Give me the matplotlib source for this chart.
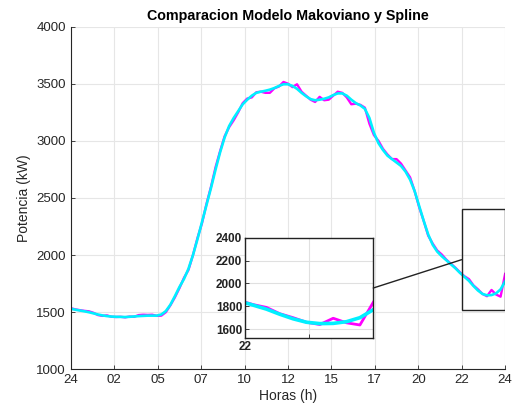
import numpy as np
import matplotlib
matplotlib.use("Agg")
import matplotlib.pyplot as plt
from matplotlib.patches import Rectangle, ConnectionPatch

plt.rcParams['font.family'] = ['Liberation Sans', 'DejaVu Sans']

# 15-minute samples, 0 h .. 24 h
horas = np.arange(0, 24.01, 0.25)

markov = [1535, 1525, 1518, 1512, 1508, 1495, 1475, 1468, 1472, 1460,
          1458, 1460, 1455, 1462, 1460, 1475, 1478, 1476, 1478, 1468,
          1470, 1500, 1560, 1630, 1710, 1800, 1870, 2000, 2150, 2280,
          2450, 2600, 2770, 2910, 3040, 3120, 3180, 3250, 3330, 3370,
          3380, 3425, 3430, 3420, 3420, 3460, 3475, 3515, 3500, 3470,
          3495, 3430, 3395, 3360, 3340, 3385, 3355, 3360, 3395, 3430,
          3420, 3380, 3320, 3325, 3315, 3290, 3150, 3050, 3000, 2930,
          2880, 2840, 2840, 2800, 2740, 2680, 2560, 2420, 2300, 2170,
          2100, 2040, 2005, 1960, 1925, 1890, 1850, 1815, 1790, 1735,
          1700, 1660, 1640, 1695, 1655, 1636, 1835]

spline = [1530, 1522, 1515, 1508, 1500, 1490, 1480, 1472, 1466, 1462,
          1460, 1459, 1458, 1460, 1463, 1466, 1468, 1470, 1470, 1470,
          1480, 1510, 1565, 1640, 1720, 1790, 1880, 2000, 2140, 2290,
          2440, 2590, 2750, 2900, 3030, 3130, 3200, 3260, 3320, 3360,
          3395, 3420, 3430, 3438, 3448, 3462, 3480, 3495, 3495, 3480,
          3455, 3420, 3390, 3365, 3355, 3360, 3368, 3380, 3400, 3415,
          3415, 3395, 3360, 3330, 3310, 3280, 3200, 3070, 2980, 2920,
          2870, 2840, 2810, 2780, 2730, 2660, 2560, 2430, 2300, 2180,
          2090, 2030, 1990, 1955, 1920, 1885, 1845, 1810, 1775, 1730,
          1690, 1660, 1648, 1650, 1665, 1700, 1770]

xticks = np.arange(0, 24.01, 2.4)
xticklabels = ['24', '02', '05', '07', '10', '12', '15', '17', '20', '22', '24']

zoom_x = (21.6, 24.0)
zoom_y = (1520, 2400)

txt = '#262626'
gridc = '#e6e6e6'

fig = plt.figure(figsize=(5.17, 4.15), dpi=100)
ax = fig.add_axes([0.137, 0.110, 0.840, 0.826])

ax.plot(horas, markov, color='#ff00ff', lw=1.7)
ax.plot(horas, spline, color='#00f0ff', lw=1.9)

ax.set_xlim(0, 24)
ax.set_ylim(1000, 4000)
ax.set_xticks(xticks)
ax.set_xticklabels(xticklabels)
ax.set_yticks(np.arange(1000, 4001, 500))
ax.grid(True, color=gridc, lw=0.8)
ax.set_axisbelow(True)
for s in ['top', 'right']:
    ax.spines[s].set_visible(False)
for s in ['left', 'bottom']:
    ax.spines[s].set_color(txt)
    ax.spines[s].set_linewidth(0.8)
ax.tick_params(direction='in', length=3, colors=txt, labelsize=9.5, width=0.6)
ax.set_xlabel('Horas (h)', fontsize=10, color=txt, labelpad=2)
ax.set_ylabel('Potencia (kW)', fontsize=10, color=txt, labelpad=4)
ax.set_title('Comparacion Modelo Makoviano y Spline', fontsize=10.3, fontweight='bold', pad=5)

# zoom box in the main axes
ax.add_patch(Rectangle((zoom_x[0], zoom_y[0]), zoom_x[1] - zoom_x[0], zoom_y[1] - zoom_y[0],
                       fill=False, edgecolor='#222222', lw=1.0, zorder=5))

# inset
ins = fig.add_axes([0.474, 0.185, 0.248, 0.242])
ins.plot(horas, markov, color='#ff00ff', lw=2.0)
ins.plot(horas, spline, color='#00f0ff', lw=2.6)
ins.set_xlim(*zoom_x)
ins.set_ylim(*zoom_y)
ins.set_xticks([21.6, 22.8])
ins.set_xticklabels(['22', ''])
ins.set_yticks(np.arange(1600, 2401, 200))
ins.grid(True, color='#e0e0e0', lw=0.8)
ins.set_axisbelow(True)
for s in ins.spines.values():
    s.set_color('#222222')
    s.set_linewidth(1.0)
ins.tick_params(direction='in', length=3, colors='#222222', labelsize=8.5, width=0.6, pad=2)
for lab in ins.get_xticklabels() + ins.get_yticklabels():
    lab.set_fontweight('bold')

mid = (zoom_y[0] + zoom_y[1]) / 2
con = ConnectionPatch(xyA=(zoom_x[1], mid), coordsA=ins.transData,
                      xyB=(zoom_x[0], mid), coordsB=ax.transData,
                      color='#222222', lw=1.0)
fig.add_artist(con)

fig.savefig('out.png', dpi=100)
